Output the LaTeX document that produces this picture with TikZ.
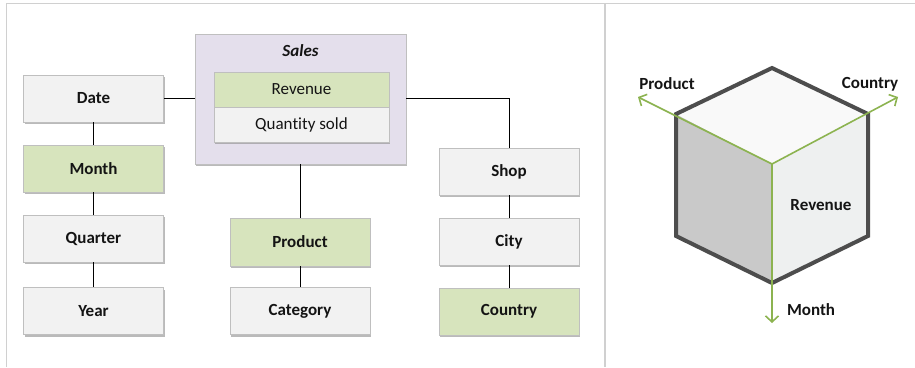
\documentclass[tikz,border=0pt]{standalone}
\usepackage{fontspec}
\setmainfont[Ligatures={NoCommon}]{Carlito}
\usetikzlibrary{shadows,arrows.meta}
\definecolor{boxfill}{HTML}{F2F2F2}
\definecolor{boxline}{HTML}{BFBFBF}
\definecolor{greenfill}{HTML}{D7E4BD}
\definecolor{lavfill}{HTML}{E4DFEC}
\definecolor{framecol}{HTML}{D0D0D0}
\definecolor{axisgreen}{HTML}{8CB350}
\definecolor{cubeedge}{HTML}{4D4D4D}
\definecolor{leftface}{HTML}{C9C9C9}
\definecolor{rightface}{HTML}{EEF0F0}
\definecolor{topface}{HTML}{F9F9F9}
\definecolor{txt}{HTML}{141414}
\tikzset{
  boxshadow/.style={drop shadow={shadow xshift=1pt, shadow yshift=-2pt, fill=black!45, opacity=0.6}},
  dimbox/.style={draw=boxline, line width=0.8pt, fill=boxfill, minimum width=140pt, minimum height=47pt,
    inner sep=0pt, text=txt, font=\fontsize{17}{19}\selectfont\bfseries, boxshadow},
  greenbox/.style={dimbox, fill=greenfill},
  factbox/.style={draw=boxline, line width=0.8pt, fill=lavfill, minimum width=211pt, minimum height=130pt,
    inner sep=0pt, boxshadow},
  measbox/.style={draw=boxline, line width=0.8pt, minimum width=175pt, minimum height=35pt,
    inner sep=0pt, text=txt, font=\fontsize{17}{19}\selectfont},
  link/.style={line width=1pt, black},
  axis/.style={line width=1.6pt, axisgreen, -{Straight Barb[length=6pt,width=13pt,line width=1.6pt]}},
  axlabel/.style={font=\fontsize{17}{19}\selectfont\bfseries, text=txt, inner sep=0pt}
}
\begin{document}
\begin{tikzpicture}[x=1pt,y=-1pt]
\useasboundingbox (0,0) rectangle (915,367);
% frame
\draw[framecol, line width=1.5pt] (915,3.5) -- (6.5,3.5) -- (6.5,367);
\draw[framecol, line width=1.5pt] (605,3.5) -- (605,367);

% fact table
\node[factbox] (sales) at (300.5,99) {};
\node[font=\fontsize{17}{19}\selectfont\bfseries\itshape, text=txt] (salest) at (300.5,51) {Sales};
\node[measbox, fill=boxfill, boxshadow] (qty) at (301.5,124.5) {Quantity sold};
\node[measbox, fill=greenfill] (rev) at (301.5,89.5) {Revenue};

% dimensions
\node[dimbox] (date) at (93.5,98.5) {Date};
\node[greenbox] (month) at (93.5,168.5) {Month};
\node[dimbox] (quarter) at (93.5,238.5) {Quarter};
\node[dimbox] (year) at (93.5,311) {Year};

\node[greenbox, minimum height=48pt] (product) at (300,242) {Product};
\node[dimbox] (category) at (300,311) {Category};

\node[dimbox] (shop) at (509,171.5) {Shop};
\node[dimbox] (city) at (509,241.5) {City};
\node[greenbox] (country) at (509,311.5) {Country};

% links
\draw[link] (date.east) -- (sales.west |- date.east);
\draw[link] (sales.east |- date.east) -| (shop.north);
\draw[link] (sales.south -| product.north) -- (product.north);
\draw[link] (date) -- (month);
\draw[link] (month) -- (quarter);
\draw[link] (quarter) -- (year);
\draw[link] (product) -- (category);
\draw[link] (shop) -- (city);
\draw[link] (city) -- (country);

% cube
\coordinate (ct) at (772,68);
\coordinate (cul) at (676,114);
\coordinate (cur) at (868,114);
\coordinate (cll) at (676,236);
\coordinate (clr) at (868,236);
\coordinate (cb) at (772,283);
\coordinate (cc) at (772,164);
\fill[leftface] (cul) -- (cc) -- (cb) -- (cll) -- cycle;
\fill[rightface] (cc) -- (cur) -- (clr) -- (cb) -- cycle;
\fill[topface] (ct) -- (cur) -- (cc) -- (cul) -- cycle;
\draw[cubeedge, line width=4pt, line join=miter] (ct) -- (cur) -- (clr) -- (cb) -- (cll) -- (cul) -- cycle;

\coordinate (ap) at (638,97);
\coordinate (ac) at (898,97);
\coordinate (am) at (772,323);
\draw[axis] (cc) -- (ap);
\draw[axis] (cc) -- (ac);
\draw[axis] (cc) -- (am);

\node[axlabel] (lp) at (667,84) {Product};
\node[axlabel] (lc) at (870,84) {Country};
\node[axlabel] (lm) at (811,310) {Month};
\node[axlabel] (lr) at (821,205) {Revenue};
\end{tikzpicture}
\end{document}
